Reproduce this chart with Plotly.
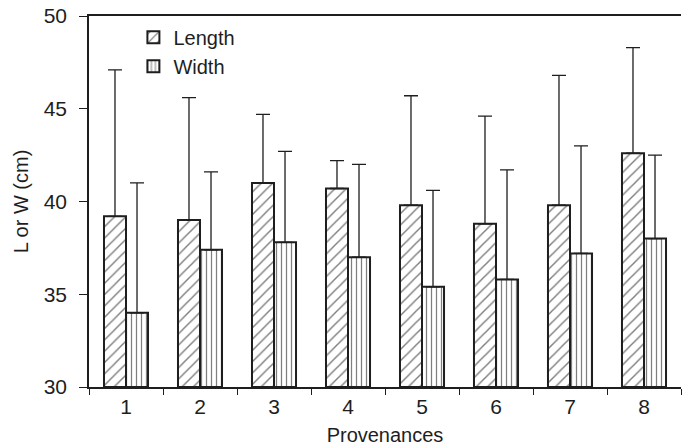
import plotly.graph_objects as go

provenances = ["1", "2", "3", "4", "5", "6", "7", "8"]
length_mean = [39.2, 39.0, 41.0, 40.7, 39.8, 38.8, 39.8, 42.6]
length_sd = [7.9, 6.6, 3.7, 1.5, 5.9, 5.8, 7.0, 5.7]
width_mean = [34.0, 37.4, 37.8, 37.0, 35.4, 35.8, 37.2, 38.0]
width_sd = [7.0, 4.2, 4.9, 5.0, 5.2, 5.9, 5.8, 4.5]

FONT = "Liberation Sans, Arial, sans-serif"
INK = "#1e1e1e"


def series(name, means, sds, shape, size, solidity):
    return go.Bar(
        name=name,
        x=provenances,
        y=[m - 30 for m in means],
        base=30,
        marker=dict(
            color="white",
            line=dict(color=INK, width=2),
            pattern=dict(shape=shape, fgcolor="black", bgcolor="white",
                         size=size, solidity=solidity),
        ),
        error_y=dict(type="data", array=sds, arrayminus=[0] * len(sds),
                     symmetric=False, color=INK, thickness=1.3, width=7),
    )


fig = go.Figure()
fig.add_trace(series("Length", length_mean, length_sd, "/", 8, 0.18))
fig.add_trace(series("Width", width_mean, width_sd, "|", 5, 0.25))

fig.update_layout(
    width=682, height=448,
    margin=dict(l=89, r=1, t=16, b=61),
    paper_bgcolor="white", plot_bgcolor="white",
    barmode="group", bargap=0.405, bargroupgap=0,
    font=dict(family=FONT, size=20, color=INK),
    showlegend=True,
    legend=dict(x=0.075, y=0.995, xanchor="left", yanchor="top",
                bgcolor="rgba(0,0,0,0)", font=dict(size=20),
                itemwidth=30, tracegroupgap=0),
)
fig.update_xaxes(
    type="category", showline=True, linecolor=INK, linewidth=1.5, mirror=True,
    ticks="outside", tickson="boundaries", ticklen=6, tickcolor=INK,
    showgrid=False, zeroline=False,
    title=dict(text="Provenances", standoff=11, font=dict(size=20)),
    tickfont=dict(size=21),
)
fig.update_yaxes(
    range=[30, 50], tickvals=[30, 35, 40, 45, 50],
    showline=True, linecolor=INK, linewidth=1.5,
    ticks="outside", ticklen=8, tickcolor=INK, ticklabelstandoff=8,
    showgrid=False, zeroline=False,
    title=dict(text="L or W (cm)", standoff=10, font=dict(size=20)),
    tickfont=dict(size=21),
)

fig.write_html("out.html")
